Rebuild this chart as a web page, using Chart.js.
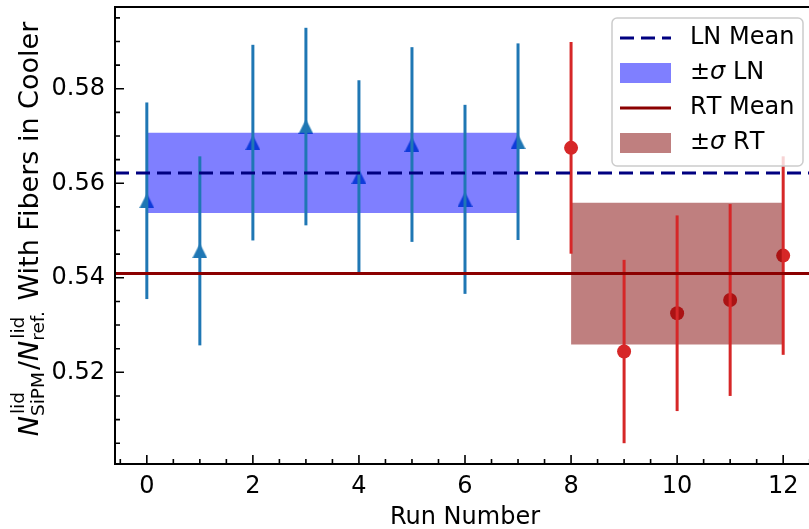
<!DOCTYPE html>
<html>
<head>
<meta charset="utf-8">
<script src="https://cdn.jsdelivr.net/npm/chart.js@4.4.1/dist/chart.umd.min.js"></script>
<style>
  html, body { margin: 0; padding: 0; background: #fff; overflow: hidden; }
  canvas { display: block; }
</style>
</head>
<body>
<canvas id="c" width="822" height="529"></canvas>
<script>
'use strict';

// --- Data ---
const lnRuns = [0, 1, 2, 3, 4, 5, 6, 7];
const lnVals = [0.5563, 0.5457, 0.5686, 0.5720, 0.5614, 0.5682, 0.5566, 0.5688];
const lnErrs = [0.0208, 0.0200, 0.0207, 0.0209, 0.0204, 0.0206, 0.0200, 0.0208];
const rtRuns = [8, 9, 10, 11, 12];
const rtVals = [0.5675, 0.5244, 0.5325, 0.5353, 0.5447];
const rtErrs = [0.0224, 0.0194, 0.0207, 0.0203, 0.0210];
const lnMean = 0.5622, lnSigma = 0.0085;
const rtMean = 0.5409, rtSigma = 0.0150;

const xTicks = [0, 2, 4, 6, 8, 10, 12];
const yTicks = [0.52, 0.54, 0.56, 0.58];
const xMinorStep = 0.5, yMinorStep = 0.005;
const xRange = [-0.6, 12.6];
const yRange = [0.5006, 0.5973];

const xTitle = 'Run Number';
// y label: N^lid_SiPM / N^lid_ref.  With Fibers in Cooler
const yTitleParts = [
  { text: 'N', italic: true },
  { sup: 'lid', sub: 'SiPM' },
  { text: '/' },
  { text: 'N', italic: true },
  { sup: 'lid', sub: 'ref.' },
  { text: ' With Fibers in Cooler' }
];
const legendLabels = ['LN Mean', '±σ LN', 'RT Mean', '±σ RT'];

// --- Styles ---
const FONT = '"DejaVu Sans", sans-serif';
const C_LN = '#1f77b4', C_RT = '#d62728';
const C_LN_MEAN = '#000080', C_RT_MEAN = '#8b0000';
const C_LN_BAND = 'rgba(0,0,255,0.5)', C_RT_BAND = 'rgba(128,0,0,0.5)';
const DASH = [14, 7];

Chart.defaults.font.family = FONT;
Chart.defaults.color = '#000';

// matplotlib style '^' marker
function triangleImg(size, color){
  const c = document.createElement('canvas');
  c.width = size; c.height = size;
  const g = c.getContext('2d');
  g.fillStyle = color;
  g.beginPath();
  g.moveTo(size/2, 0); g.lineTo(size, size); g.lineTo(0, size);
  g.closePath(); g.fill();
  return c;
}

// --- Dataset builders ---
function markerDs(runs, vals, color, style, radius){
  return { data: runs.map((r,i)=>({x:r, y:vals[i]})), showLine:false,
    pointStyle:style, pointRadius:radius, pointBackgroundColor:color,
    pointBorderWidth:0, order:4 };
}
function errDs(runs, vals, errs, color){
  return runs.map((r,i)=>({ data:[{x:r, y:vals[i]-errs[i]}, {x:r, y:vals[i]+errs[i]}],
    borderColor:color, borderWidth:3, borderCapStyle:'butt', pointRadius:0, fill:false, order:2 }));
}
function bandDs(runs, mean, sigma, color){
  return { data:[{x:runs[0], y:mean+sigma}, {x:runs[runs.length-1], y:mean+sigma}],
    borderColor:'rgba(0,0,0,0)', borderWidth:0, pointRadius:0,
    backgroundColor:color, fill:{value: mean-sigma}, order:3 };
}
function meanDs(mean, color, dash){
  return { data: xRange.map(x=>({x, y:mean})), borderColor:color, borderWidth:3,
    borderDash:dash, borderCapStyle:'butt', pointRadius:0, fill:false, order:1 };
}

const datasets = [
  markerDs(lnRuns, lnVals, C_LN, triangleImg(15, C_LN), 7),
  markerDs(rtRuns, rtVals, C_RT, 'circle', 7),
  bandDs(lnRuns, lnMean, lnSigma, C_LN_BAND),
  bandDs(rtRuns, rtMean, rtSigma, C_RT_BAND),
  ...errDs(lnRuns, lnVals, lnErrs, C_LN),
  ...errDs(rtRuns, rtVals, rtErrs, C_RT),
  meanDs(lnMean, C_LN_MEAN, DASH),
  meanDs(rtMean, C_RT_MEAN, [])
];

// --- Plugins ---
function onGrid(v, list){ return list.some(t => Math.abs(t - v) < 1e-9); }

// spines + inward major/minor ticks
const axesFrame = {
  id: 'axesFrame',
  afterDatasetsDraw(chart){
    const {ctx, chartArea:a, scales:{x, y}} = chart;
    ctx.save();
    ctx.strokeStyle = '#000';
    ctx.lineWidth = 1.6;
    ctx.beginPath();
    for(let k = Math.ceil(xRange[0]/xMinorStep); k*xMinorStep <= xRange[1]; k++){
      const v = k*xMinorStep, px = x.getPixelForValue(v);
      const len = onGrid(v, xTicks) ? 9 : 5;
      ctx.moveTo(px, a.bottom); ctx.lineTo(px, a.bottom - len);
    }
    for(let k = Math.ceil(yRange[0]/yMinorStep); k*yMinorStep <= yRange[1]; k++){
      const v = k*yMinorStep, py = y.getPixelForValue(v);
      const len = onGrid(v, yTicks) ? 9 : 5;
      ctx.moveTo(a.left, py); ctx.lineTo(a.left + len, py);
    }
    ctx.stroke();
    ctx.lineWidth = 2;
    ctx.strokeRect(a.left, a.top, a.right - a.left, a.bottom - a.top);
    ctx.restore();
  }
};

// rotated y title with sub/superscripts
const yTitle = {
  id: 'yTitle',
  afterDraw(chart){
    const ctx = chart.ctx;
    const big = '27px ' + FONT, bigIt = 'italic 27px ' + FONT, small = '18.5px ' + FONT;
    ctx.save();
    const widths = yTitleParts.map(p=>{
      if(p.text !== undefined){ ctx.font = p.italic ? bigIt : big; return ctx.measureText(p.text).width; }
      ctx.font = small;
      return Math.max(ctx.measureText(p.sup).width, ctx.measureText(p.sub).width) + 2;
    });
    const total = widths.reduce((s,w)=>s+w, 0);
    ctx.translate(38, 229);
    ctx.rotate(-Math.PI/2);
    ctx.fillStyle = '#000';
    ctx.textBaseline = 'alphabetic';
    let cx = -total/2;
    yTitleParts.forEach((p,i)=>{
      if(p.text !== undefined){
        ctx.font = p.italic ? bigIt : big;
        ctx.fillText(p.text, cx, 0);
      } else {
        ctx.font = small;
        ctx.fillText(p.sup, cx + 2, -14);
        ctx.fillText(p.sub, cx, 6);
      }
      cx += widths[i];
    });
    ctx.restore();
  }
};

// legend box, upper right
const legendBox = {
  id: 'legendBox',
  afterDraw(chart){
    const ctx = chart.ctx;
    const bx = 612, by = 18, bw = 191, bh = 148;
    const rows = [38, 73, 108, 143];
    ctx.save();
    ctx.beginPath();
    ctx.roundRect(bx, by, bw, bh, 5);
    ctx.fillStyle = 'rgba(255,255,255,0.8)';
    ctx.fill();
    ctx.strokeStyle = '#cccccc';
    ctx.lineWidth = 1.5;
    ctx.stroke();

    const hx0 = 620, hx1 = 671;
    const handles = [
      {line:C_LN_MEAN, dash:DASH}, {fill:C_LN_BAND},
      {line:C_RT_MEAN, dash:[]}, {fill:C_RT_BAND}
    ];
    handles.forEach((h,i)=>{
      const yy = rows[i];
      if(h.line){
        ctx.beginPath();
        ctx.setLineDash(h.dash);
        ctx.strokeStyle = h.line; ctx.lineWidth = 3; ctx.lineCap = 'butt';
        ctx.moveTo(hx0, yy); ctx.lineTo(hx1, yy); ctx.stroke();
        ctx.setLineDash([]);
      } else {
        ctx.fillStyle = h.fill;
        ctx.fillRect(hx0, yy - 10, hx1 - hx0, 20);
      }
    });

    ctx.fillStyle = '#000';
    ctx.textBaseline = 'middle';
    legendLabels.forEach((lab,i)=>{
      let tx = 690;
      // sigma is set in italic like mathtext
      for(const ch of lab){
        ctx.font = (ch === 'σ' ? 'italic ' : '') + '24px ' + FONT;
        ctx.fillText(ch, tx, rows[i]);
        tx += ctx.measureText(ch).width;
      }
    });
    ctx.restore();
  }
};

// --- Chart ---
new Chart(document.getElementById('c'), {
  type: 'line',
  data: { datasets },
  options: {
    responsive: false,
    animation: false,
    devicePixelRatio: 1,
    events: [],
    layout: { padding: { top: 6, right: 7, left: 0, bottom: 0 } },
    elements: { line: { tension: 0 } },
    plugins: { legend: { display: false }, tooltip: { enabled: false } },
    scales: {
      x: {
        type: 'linear', min: xRange[0], max: xRange[1],
        grid: { display: false, drawTicks: false },
        border: { display: false },
        afterBuildTicks: s => { s.ticks = xTicks.map(v=>({value:v})); },
        afterFit: s => { s.height = 65; s.paddingLeft = 0; s.paddingRight = 0; },
        ticks: { font: { size: 24 }, padding: 8, maxRotation: 0, callback: v => String(v) },
        title: { display: true, text: xTitle, font: { size: 24 }, padding: { top: 0, bottom: -3 } }
      },
      y: {
        type: 'linear', min: yRange[0], max: yRange[1],
        grid: { display: false, drawTicks: false },
        border: { display: false },
        afterBuildTicks: s => { s.ticks = yTicks.map(v=>({value:v})); },
        afterFit: s => { s.width = 115; s.paddingTop = 0; s.paddingBottom = 0; },
        ticks: { font: { size: 24 }, padding: 10, callback: v => v.toFixed(2) }
      }
    }
  },
  plugins: [axesFrame, yTitle, legendBox]
});
</script>
</body>
</html>
